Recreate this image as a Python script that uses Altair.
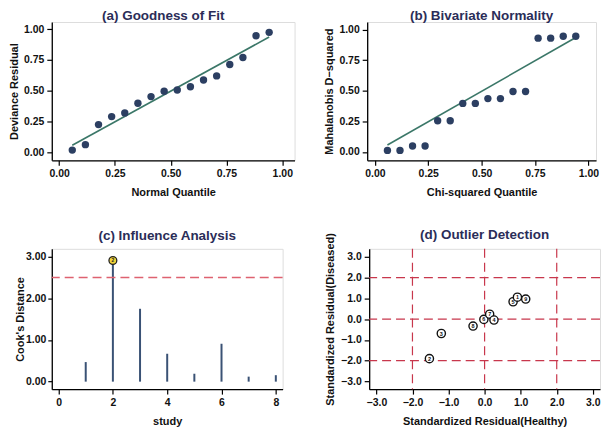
import altair as alt
import pandas as pd

FONT = "Liberation Sans"

# ---------- data ----------
# (a) Goodness of fit
q_normal = [i / 17 for i in range(1, 17)]
dev_resid = [0.018, 0.062, 0.225, 0.29, 0.32, 0.398, 0.452, 0.496,
             0.506, 0.532, 0.587, 0.62, 0.713, 0.77, 0.946, 0.974]
fit_a_x = [0.0588, 0.9412]
fit_a_y = [0.057, 0.936]

# (b) Bivariate normality
q_chi = [i / 17 for i in range(1, 17)]
mahal_d2 = [0.013, 0.013, 0.049, 0.049, 0.255, 0.255, 0.397, 0.397,
            0.436, 0.436, 0.494, 0.494, 0.93, 0.93, 0.945, 0.945]
fit_b_x = [0.0588, 0.9412]
fit_b_y = [0.057, 0.935]

# (c) Influence analysis
study = [1, 2, 3, 4, 5, 6, 7, 8]
cooks = [0.47, 2.91, 1.75, 0.67, 0.19, 0.91, 0.12, 0.155]
cooks_cut = [2.5]
flag_study = [2]
flag_cooks = [2.91]
flag_label = ["2"]

# (d) Outlier detection
res_healthy = [-1.53, -1.20, -0.32, -0.02, 0.14, 0.26, 0.79, 0.91, 1.14]
res_diseased = [-1.90, -0.69, -0.33, -0.01, 0.24, -0.04, 0.84, 1.06, 0.97]
res_label = ["2", "3", "8", "6", "7", "4", "5", "1", "9"]
ref_lines = [-2, 0, 2]

# ---------- styles ----------
PT = "#2c3f62"
LN = "#3b7768"
TITLE_C = "#2b2d58"


def ttl(text, dx=0, offset=1):
    return alt.Title(text, fontSize=13.5, font=FONT, fontWeight="bold",
                     color=TITLE_C, anchor="middle", frame="group",
                     offset=offset, dx=dx)


def ax(title, values, fmt, tp=5, lp=3, ts=5):
    return alt.Axis(title=title, values=values, format=fmt, grid=False,
                    domainColor="black", domainWidth=1.3, tickColor="black",
                    tickWidth=1.2, tickSize=ts, labelPadding=lp,
                    labelFont=FONT, labelFontSize=10.5, labelFontWeight="bold",
                    labelColor="#111111", titleFont=FONT, titleFontSize=11,
                    titleFontWeight="bold", titleColor="#111111",
                    titlePadding=tp, labelOverlap=False)


q_ticks = [0, 0.25, 0.5, 0.75, 1]
H1 = 139
H2 = 141

# ---------- panel a ----------
da = pd.DataFrame({"x": q_normal, "y": dev_resid})
la = pd.DataFrame({"x": fit_a_x, "y": fit_a_y})
xa = alt.X("x:Q", scale=alt.Scale(domain=[-0.033, 1.055], nice=False, zero=False),
           axis=ax("Normal Quantile", q_ticks, ".2f", tp=8))
ya = alt.Y("y:Q", scale=alt.Scale(domain=[-0.065, 1.058], nice=False, zero=False),
           axis=ax("Deviance Residual", q_ticks, ".2f", tp=4))
pa = alt.layer(
    alt.Chart(la).mark_line(color=LN, strokeWidth=1.6).encode(x=xa, y=ya),
    alt.Chart(da).mark_circle(color=PT, size=55, opacity=1).encode(x=xa, y=ya),
).properties(width=244, height=H1, title=ttl("(a) Goodness of Fit", dx=-10, offset=-1))

# ---------- panel b ----------
db = pd.DataFrame({"x": q_chi, "y": mahal_d2})
lb = pd.DataFrame({"x": fit_b_x, "y": fit_b_y})
xb = alt.X("x:Q", scale=alt.Scale(domain=[-0.036, 1.036], nice=False, zero=False),
           axis=ax("Chi-squared Quantile", q_ticks, ".2f", tp=8))
yb = alt.Y("y:Q", scale=alt.Scale(domain=[-0.068, 1.062], nice=False, zero=False),
           axis=ax("Mahalanobis D\u2212squared", q_ticks, ".2f", tp=4))
pb = alt.layer(
    alt.Chart(lb).mark_line(color=LN, strokeWidth=1.6).encode(x=xb, y=yb),
    alt.Chart(db).mark_circle(color=PT, size=55, opacity=1).encode(x=xb, y=yb),
).properties(width=230, height=H1, title=ttl("(b) Bivariate Normality", offset=-1))

# ---------- panel c ----------
dc = pd.DataFrame({"study": study, "cooks": cooks})
fc = pd.DataFrame({"study": flag_study, "cooks": flag_cooks, "lab": flag_label})
cc = pd.DataFrame({"cooks": cooks_cut})
sc_x = alt.Scale(domain=[-0.25, 8.25], nice=False, zero=False)
sc_y = alt.Scale(domain=[-0.18, 3.19], nice=False, zero=False)
ax_cx = ax("study", [0, 2, 4, 6, 8], "d", tp=8)
ax_cy = ax("Cook's Distance", [0, 1, 2, 3], ".2f", tp=0, lp=2, ts=4)
xc = alt.X("study:Q", scale=sc_x, axis=ax_cx)
yc = alt.Y("cooks:Q", scale=sc_y, axis=ax_cy)
pc = alt.layer(
    alt.Chart(dc).mark_rule(color="#3a5275", strokeWidth=2).encode(
        x=xc, y=yc, y2=alt.datum(0)),
    alt.Chart(cc).mark_rule(color="#de6270", strokeWidth=1.5, strokeDash=[9, 5]).encode(
        y=yc),
    alt.Chart(fc).mark_point(shape="circle", filled=True, fill="#f2d63a",
                             stroke="#222222", strokeWidth=1.3, size=62, opacity=1).encode(
        x=xc, y=yc),
    alt.Chart(fc).mark_text(font=FONT, fontSize=5, fontWeight="bold", color="#222222",
                            baseline="middle", align="center").encode(
        x=xc, y=yc, text="lab:N"),
).properties(width=232, height=H2, title=ttl("(c) Influence Analysis", offset=6))

# ---------- panel d ----------
dd = pd.DataFrame({"x": res_healthy, "y": res_diseased, "lab": res_label})
rx = pd.DataFrame({"x": ref_lines})
ry = pd.DataFrame({"y": ref_lines})
d_ticks = [-3, -2, -1, 0, 1, 2, 3]
sd_x = alt.Scale(domain=[-3.2, 3.2], nice=False, zero=False)
sd_y = alt.Scale(domain=[-3.37, 3.39], nice=False, zero=False)
xd = alt.X("x:Q", scale=sd_x, axis=ax("Standardized Residual(Healthy)", d_ticks, ".1f", tp=8))
yd = alt.Y("y:Q", scale=sd_y, axis=ax("Standardized Residual(Diseased)", d_ticks, ".1f", tp=5))
RED = "#c8374c"
pdd = alt.layer(
    alt.Chart(rx).mark_rule(color=RED, strokeWidth=1.2, strokeDash=[9, 5]).encode(x=xd),
    alt.Chart(ry).mark_rule(color=RED, strokeWidth=1.2, strokeDash=[9, 5]).encode(y=yd),
    alt.Chart(dd).mark_point(shape="circle", filled=True, fill="white",
                             stroke="#111111", strokeWidth=1.4, size=68, opacity=1).encode(
        x=xd, y=yd),
    alt.Chart(dd).mark_text(font=FONT, fontSize=5.5, fontWeight="bold", color="#111111",
                            baseline="middle", align="center").encode(
        x=xd, y=yd, text="lab:N"),
).properties(width=232, height=H2, title=ttl("(d) Outlier Detection", offset=-9))

row1 = alt.hconcat(pa, pb, spacing=73, bounds="flush")
row2 = alt.hconcat(pc, pdd, spacing=87, bounds="flush")
chart = alt.vconcat(row1, row2, spacing=29).properties(padding=0).configure_view(
    stroke=None).configure_axis(labelOverlap=False).configure(background="white")

chart.save("out.html", embed_options={"renderer": "svg", "actions": False})
